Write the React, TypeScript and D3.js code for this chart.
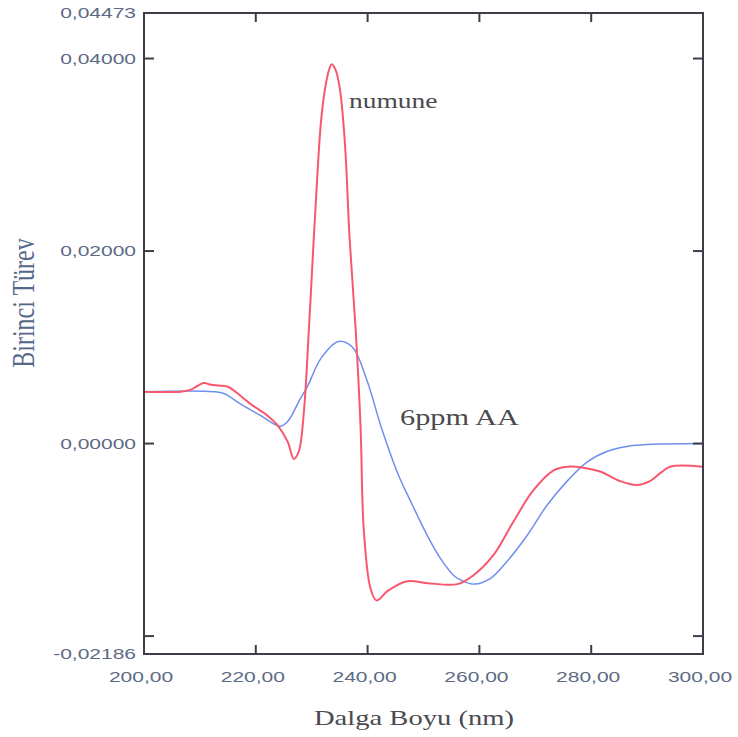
import React from "react";
import * as d3 from "d3";

// Birinci türev spektrumları: numune ve 6 ppm askorbik asit (AA)
const numuneWavelength = [
  200.0, 206.6, 208.4, 210.7, 212.0, 215.0, 216.1, 219.1, 222.1, 223.9, 225.7, 226.8,
  227.7, 228.6, 229.5, 230.36, 231.07, 231.61, 232.14, 232.86, 233.57, 234.29, 235.0, 235.54,
  236.07, 236.79, 237.86, 238.75, 239.3, 240.5, 241.6, 243.6, 247.1, 250.7, 256.1, 258.9,
  262.5, 266.1, 269.6, 273.2, 275.7, 278.6, 281.6, 285.2, 288.2, 290.5, 292.3, 294.1, 300.0,
];
const numuneDeriv = [
  0.00539, 0.00539, 0.0056, 0.0063, 0.0061, 0.0059, 0.0055, 0.0041, 0.0029, 0.0019, 0.0002, -0.0016,
  -0.0008, 0.0033, 0.0119, 0.0212, 0.0285, 0.0331, 0.0359, 0.0383, 0.0394, 0.0388, 0.037, 0.0342,
  0.03, 0.0212, 0.0119, 0.0016, -0.0088, -0.015, -0.0163, -0.0153, -0.0143, -0.0145, -0.0146, -0.0137,
  -0.0116, -0.0081, -0.0049, -0.0028, -0.0024, -0.0025, -0.0029, -0.0039, -0.0043, -0.0039, -0.0031, -0.0024, -0.0024,
];

const aaWavelength = [
  200.0, 212.5, 214.3, 217.3, 220.9, 224.3, 225.7, 228.0, 229.3, 231.6, 234.8, 237.3,
  239.8, 242.5, 245.4, 247.7, 250.9, 253.0, 255.4, 257.1, 259.1, 262.0, 265.0, 268.6,
  272.1, 275.7, 279.3, 282.9, 286.4, 290.0, 300.0,
];
const aaDeriv = [
  0.00539, 0.00539, 0.0052, 0.0041, 0.0029, 0.0018, 0.0023, 0.0047, 0.006, 0.0088, 0.0106, 0.01,
  0.0067, 0.0016, -0.0031, -0.006, -0.0098, -0.0119, -0.0137, -0.0143, -0.0146, -0.014, -0.0122, -0.0095,
  -0.0064, -0.0039, -0.0019, -0.0008, -0.0003, -0.0001, 0.0,
];

const yLabelValues = [0.04473, 0.04, 0.02, 0, -0.02186];
const yTickMarks = [0.04, 0.02, 0, -0.02];
const xLabelValues = [200, 220, 240, 260, 280, 300];
const xTickMarks = [220, 240, 260, 280];

const locale = d3.formatLocale({
  decimal: ",",
  thousands: ".",
  grouping: [3],
  currency: ["", ""],
  minus: "-",
});
const fmtY = locale.format(".5f");
const fmtX = locale.format(".2f");

const W = 738;
const H = 737;
const left = 144;
const right = 703;
const top = 13;
const bottom = 654;

const axisColor = "#3e3e48";
const tickTextColor = "#5d6a84";
const redColor = "#f7586e";
const blueColor = "#6f8ff0";

export default function App() {
  const x = d3.scaleLinear().domain([200, 300]).range([left, right]);
  const y = d3.scaleLinear().domain([-0.02186, 0.04473]).range([bottom, top]);

  const line = d3
    .line<[number, number]>()
    .x((d) => x(d[0]))
    .y((d) => y(d[1]))
    .curve(d3.curveCatmullRom.alpha(0.5));

  const numunePts = numuneWavelength.map((w, i) => [w, numuneDeriv[i]] as [number, number]);
  const aaPts = aaWavelength.map((w, i) => [w, aaDeriv[i]] as [number, number]);

  const sansFont = "'Liberation Sans', Arial, sans-serif";
  const serifFont = "'Liberation Serif', 'Times New Roman', serif";

  return (
    <svg
      width={W}
      height={H}
      style={{ position: "absolute", left: 0, top: 0, background: "#fff" }}
    >
      {/* curves */}
      <path d={line(aaPts) ?? ""} fill="none" stroke={blueColor} strokeWidth={1.5} />
      <path d={line(numunePts) ?? ""} fill="none" stroke={redColor} strokeWidth={2} />

      {/* frame */}
      <rect
        x={left}
        y={top}
        width={right - left}
        height={bottom - top}
        fill="none"
        stroke={axisColor}
        strokeWidth={2}
      />

      {/* y ticks, both sides, pointing inward */}
      {yTickMarks.map((v) => (
        <g key={"yt" + v}>
          <line x1={left} x2={left + 10} y1={y(v)} y2={y(v)} stroke={axisColor} strokeWidth={2} />
          <line x1={right - 10} x2={right} y1={y(v)} y2={y(v)} stroke={axisColor} strokeWidth={2} />
        </g>
      ))}

      {/* x ticks, bottom and top, pointing inward */}
      {xTickMarks.map((v) => (
        <g key={"xt" + v}>
          <line x1={x(v)} x2={x(v)} y1={bottom} y2={bottom - 9} stroke={axisColor} strokeWidth={2} />
          <line x1={x(v)} x2={x(v)} y1={top} y2={top + 9} stroke={axisColor} strokeWidth={2} />
        </g>
      ))}

      {/* y tick labels */}
      {yLabelValues.map((v) => (
        <text
          key={"yl" + v}
          transform={`translate(${left - 8},${y(v) + 5}) scale(1.5,1)`}
          textAnchor="end"
          fontFamily={sansFont}
          fontSize={14}
          fill={tickTextColor}
        >
          {fmtY(v)}
        </text>
      ))}

      {/* x tick labels */}
      {xLabelValues.map((v) => (
        <text
          key={"xl" + v}
          transform={`translate(${x(v) - 3},${bottom + 28}) scale(1.5,1)`}
          textAnchor="middle"
          fontFamily={sansFont}
          fontSize={14}
          fill={tickTextColor}
        >
          {fmtX(v)}
        </text>
      ))}

      {/* axis titles */}
      <text
        transform={`translate(414,${H - 12}) scale(1.3,1)`}
        textAnchor="middle"
        fontFamily={serifFont}
        fontSize={22}
        fill="#4a4a50"
      >
        Dalga Boyu (nm)
      </text>
      <text
        transform={`translate(34,303) scale(1.3,1) rotate(-90)`}
        textAnchor="middle"
        fontFamily={serifFont}
        fontSize={24}
        fill="#56688a"
      >
        Birinci Türev
      </text>

      {/* series labels */}
      <text
        transform={`translate(349,108) scale(1.25,1)`}
        fontFamily={serifFont}
        fontSize={22}
        fill="#4a4a50"
      >
        numune
      </text>
      <text
        transform={`translate(400,425) scale(1.32,1)`}
        fontFamily={serifFont}
        fontSize={23}
        fill="#4a4a50"
      >
        6ppm AA
      </text>
    </svg>
  );
}
